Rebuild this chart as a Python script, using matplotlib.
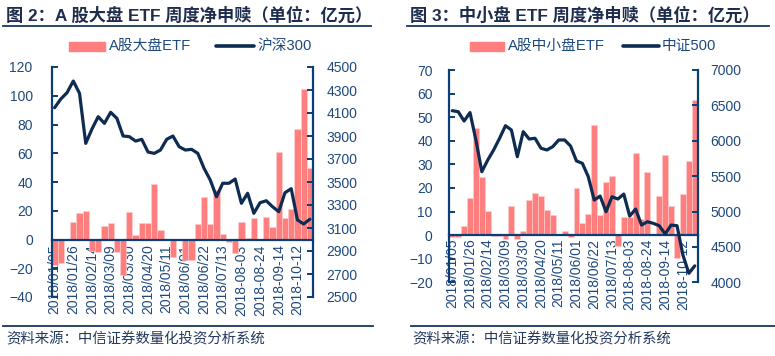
import matplotlib
matplotlib.use("Agg")
import matplotlib.pyplot as plt
from matplotlib.patches import Rectangle
from matplotlib.lines import Line2D
import numpy as np

plt.rcParams['font.family'] = ['Liberation Sans', 'Noto Sans CJK SC', 'DejaVu Sans']

dates = ['2018/01/05', '2018/01/12', '2018/01/19', '2018/01/26', '2018/02/02', '2018/02/09',
         '2018/02/14', '2018/02/23', '2018/03/02', '2018/03/09', '2018/03/16', '2018/03/23',
         '2018/03/30', '2018/04/04', '2018/04/13', '2018/04/20', '2018/04/27', '2018/05/04',
         '2018/05/11', '2018/05/18', '2018/05/25', '2018/06/01', '2018/06/08', '2018/06/15',
         '2018/06/22', '2018/06/29', '2018/07/06', '2018/07/13', '2018/07/20', '2018/07/27',
         '2018-08-03', '2018-08-10', '2018-08-17', '2018-08-24', '2018-08-31', '2018-09-07',
         '2018-09-14', '2018-09-21', '2018-09-28', '2018-10-12', '2018-10-19', '2018-10-26']

large_etf = [-18, -16, 0, 12, 18.6, 20, -8, -9, 9.6, 11.3, -9, -25, 19.1, 3.1, 11.5, 11.8,
             38.6, 6.6, 0, -12, 0, -14, -14, 10.8, 29.8, 10.8, 34.4, 3.8, -1.5, -9.6, 12.4,
             1.3, 14.7, 0, 15.9, 8.9, 61, 15.2, 21.2, 76.6, 104.7, 49.5]
hs300 = [4146, 4222, 4277, 4378, 4271, 3836, 3961, 4068, 4010, 4106, 4054, 3900, 3894, 3856,
         3871, 3761, 3749, 3778, 3871, 3900, 3807, 3778, 3784, 3749, 3619, 3517, 3372, 3489,
         3489, 3526, 3315, 3402, 3228, 3320, 3337, 3285, 3242, 3407, 3442, 3170, 3135, 3176]

small_etf = [-1, -1, 3.9, 15.9, 45.3, 24.8, 10.2, -0.5, -0.5, -1.5, 12.3, -1.5, 1.9, 14.9,
             17.7, 16.7, 10.6, 8.5, 0, 1.7, -1, 19.8, 5.3, 8.8, 46.7, 8.6, 22.6, 25.2, -4.5,
             7.8, 7.8, 34.7, 7.0, 26.6, 0, 16.7, 34.0, 12.3, -9.6, 17.3, 31.5, 57.3]
zz500 = [6425, 6411, 6279, 6398, 6011, 5563, 5728, 5870, 6035, 6213, 6152, 5775, 6129, 6025,
         6035, 5894, 5870, 5917, 6011, 6011, 5926, 5715, 5681, 5492, 5162, 5219, 4997, 5209,
         5177, 5247, 4936, 5035, 4809, 4856, 4833, 4799, 4682, 4809, 4800, 4386, 4127, 4232]

W, H = 775, 356
BAR = '#FF7F7F'
LINE = '#0E2B52'
AX = '#0B3D77'
TXT = '#1F497D'
TITLE = '#1F2D4D'

fig = plt.figure(figsize=(W / 100, H / 100), dpi=100)


def fx(px):
    return px / W


def fy(py):
    return 1 - py / H


def panel(x0, x1, ytop, ybot, bars, line, ylim1, yt1, ylim2, yt2, pad1, pad2, xpad):
    ax = fig.add_axes([fx(x0), fy(ybot), (x1 - x0) / W, (ybot - ytop) / H])
    ax2 = ax.twinx()
    x = np.arange(len(bars))
    ax.bar(x, bars, width=1.0, color=BAR, edgecolor='#FFD0D0', linewidth=0.4, zorder=2)
    ax2.plot(x, line, color=LINE, lw=2.3, solid_joinstyle='round', solid_capstyle='round', zorder=3)
    ax.set_xlim(-0.5, len(bars) - 0.5)
    ax.set_ylim(*ylim1)
    ax.set_yticks(yt1)
    ax2.set_ylim(*ylim2)
    ax2.set_yticks(yt2)
    for a in (ax, ax2):
        a.spines['top'].set_visible(False)
        a.patch.set_visible(False)
    ax.spines['right'].set_visible(False)
    ax2.spines['left'].set_visible(False)
    ax2.spines['bottom'].set_visible(False)
    ax.spines['left'].set_color(AX)
    ax.spines['left'].set_linewidth(1.6)
    ax2.spines['right'].set_color(AX)
    ax2.spines['right'].set_linewidth(1.6)
    ax.spines['bottom'].set_position(('data', 0))
    ax.spines['bottom'].set_color(AX)
    ax.spines['bottom'].set_linewidth(1.6)
    ax.spines['bottom'].set_zorder(4)
    ax.tick_params(axis='y', direction='in', length=4, width=1.4, color=AX,
                   labelcolor=TXT, labelsize=10, pad=pad1)
    ax2.tick_params(axis='y', direction='in', length=4, width=1.4, color=AX,
                    labelcolor=TXT, labelsize=10, pad=pad2)
    ax.set_xticks(x[::3])
    ax.set_xticklabels([dates[i] for i in x[::3]], rotation=90, fontsize=10, color=TXT)
    ax.tick_params(axis='x', length=0, pad=xpad)
    return ax, ax2


panel(51.5, 313, 67, 297, large_etf, hs300, (-40, 120), np.arange(-40, 121, 20),
      (2500, 4500), np.arange(2500, 4501, 200), 13.5, 9.5, 3.5)
panel(449.3, 697.7, 70, 282.3, small_etf, zz500, (-20, 70), np.arange(-20, 71, 10),
      (4000, 7000), np.arange(4000, 7001, 500), 12, 9, 2.5)

# titles and rules
fig.text(fx(6), fy(15), '图 2：A 股大盘 ETF 周度净申赎（单位：亿元）', fontsize=12.4,
         fontweight='bold', color=TITLE, va='center', ha='left')
fig.text(fx(410), fy(15), '图 3：中小盘 ETF 周度净申赎（单位：亿元）', fontsize=12.4,
         fontweight='bold', color=TITLE, va='center', ha='left')
for xa, xb, y in [(3, 371, 26), (407, 769, 26), (3, 373, 326), (411, 775, 326)]:
    fig.lines.append(Line2D([fx(xa), fx(xb)], [fy(y), fy(y)], transform=fig.transFigure,
                            color='#17375E', lw=1.3))

# legends
for px0, px1, tx, lx0, lx1, lt, label1, label2 in [
        (69, 105, 109, 216, 254, 257, 'A股大盘ETF', '沪深300'),
        (470, 504, 508, 623, 659, 662, 'A股中小盘ETF', '中证500')]:
    fig.patches.append(Rectangle((fx(px0), fy(50.5)), (px1 - px0) / W, 9 / H,
                                 transform=fig.transFigure, color=BAR))
    fig.text(fx(tx), fy(46), label1, fontsize=10.6, color=TXT, va='center', ha='left')
    fig.lines.append(Line2D([fx(lx0), fx(lx1)], [fy(46), fy(46)], transform=fig.transFigure,
                            color=LINE, lw=2.6, solid_capstyle='round'))
    fig.text(fx(lt), fy(46), label2, fontsize=10.6, color=TXT, va='center', ha='left')

fig.text(fx(6), fy(339), '资料来源：中信证券数量化投资分析系统', fontsize=10.4, color='#243A5E',
         va='center', ha='left')
fig.text(fx(412), fy(339), '资料来源：中信证券数量化投资分析系统', fontsize=10.4, color='#243A5E',
         va='center', ha='left')

fig.savefig('out.png', dpi=100)
